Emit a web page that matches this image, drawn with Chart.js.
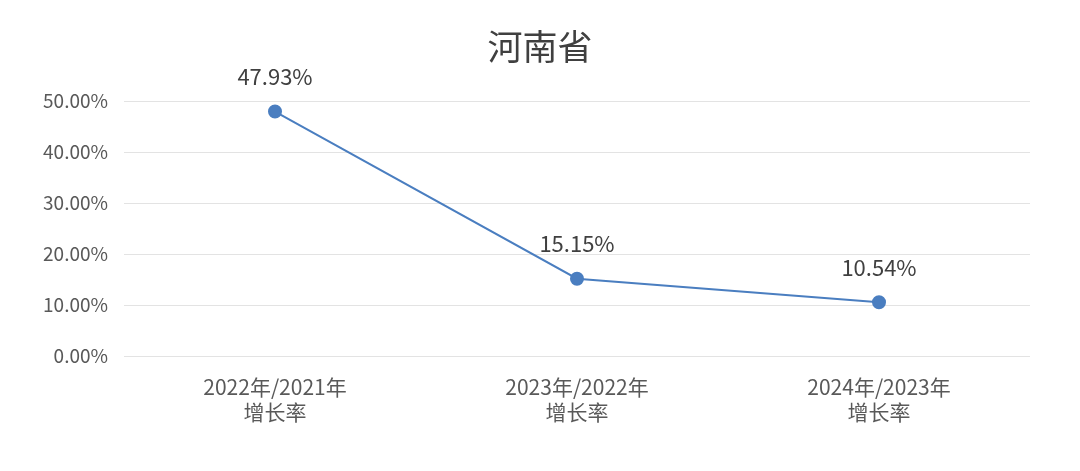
<!DOCTYPE html>
<html>
<head>
<meta charset="utf-8">
<script src="https://cdn.jsdelivr.net/npm/chart.js@4/dist/chart.umd.min.js"></script>
<style>
  html, body { margin: 0; padding: 0; background: #fff; }
  #wrap { width: 1080px; height: 471px; }
</style>
</head>
<body>
<div id="wrap"><canvas id="c" width="1080" height="471"></canvas></div>
<script>
// 数据
const categories = [['2022年/2021年', '增长率'], ['2023年/2022年', '增长率'], ['2024年/2023年', '增长率']];
const growthRates = [0.4793, 0.1515, 0.1054];
const yTicks = [0, 0.1, 0.2, 0.3, 0.4, 0.5];
const chartTitle = '河南省';

const FONT = '"Noto Sans CJK SC", "Open Sans", sans-serif';

// 数据标签
const labelPlugin = {
    id: 'pointLabels',
    afterDatasetsDraw(chart) {
        const ctx = chart.ctx;
        const meta = chart.getDatasetMeta(0);
        ctx.save();
        ctx.font = '22px ' + FONT;
        ctx.fillStyle = '#404040';
        ctx.textAlign = 'center';
        ctx.textBaseline = 'middle';
        meta.data.forEach((pt, i) => {
            ctx.fillText((growthRates[i] * 100).toFixed(2) + '%', pt.x, pt.y - 35);
        });
        ctx.restore();
    }
};

new Chart(document.getElementById('c').getContext('2d'), {
    type: 'line',
    data: {
        labels: categories,
        datasets: [{
            data: growthRates,
            borderColor: '#4A7EC0',
            backgroundColor: '#4A7EC0',
            borderWidth: 2,
            pointRadius: 6,
            pointHoverRadius: 6,
            tension: 0
        }]
    },
    options: {
        responsive: false,
        animation: false,
        layout: { padding: { top: 10, left: 0, right: 0, bottom: 0 } },
        plugins: {
            legend: { display: false },
            tooltip: { enabled: false },
            title: {
                display: true,
                text: chartTitle,
                color: '#404040',
                font: { family: FONT, size: 35, weight: 'normal' },
                padding: { top: 16, bottom: 33 }
            }
        },
        scales: {
            x: {
                offset: true,
                grid: { display: false },
                border: { display: false },
                ticks: {
                    color: '#595959',
                    font: { family: FONT, size: 21, lineHeight: 1.2 },
                    padding: 10,
                    maxRotation: 0
                },
                afterFit(scale) { scale.height = 115; }
            },
            y: {
                min: 0,
                max: 0.5,
                afterBuildTicks(scale) { scale.ticks = yTicks.map(v => ({ value: v })); },
                grid: { color: '#E3E3E3', drawTicks: false },
                border: { display: false },
                ticks: {
                    color: '#595959',
                    font: { family: FONT, size: 19 },
                    padding: 16,
                    callback: v => (v * 100).toFixed(2) + '%'
                },
                afterFit(scale) { scale.width = 124; }
            },
            // 右侧留白
            yRight: {
                position: 'right',
                display: true,
                min: 0,
                max: 1,
                grid: { display: false },
                border: { display: false },
                ticks: { display: false },
                afterFit(scale) { scale.width = 50; }
            }
        }
    },
    plugins: [labelPlugin]
});
</script>
</body>
</html>
